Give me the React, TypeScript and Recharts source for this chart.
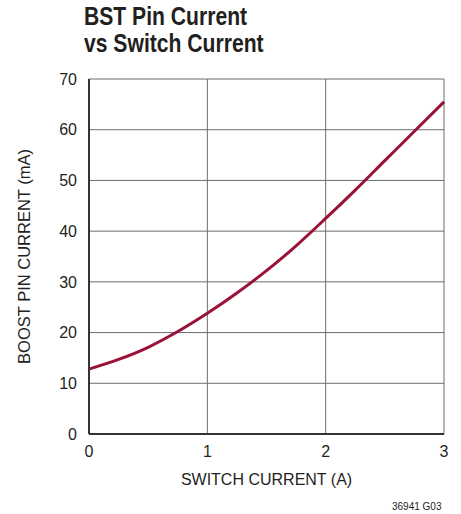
import React from "react";
import { LineChart, Line, XAxis, YAxis, CartesianGrid, Label } from "recharts";

const switchCurrent = [0, 0.25, 0.5, 0.75, 1, 1.25, 1.5, 1.75, 2, 2.25, 2.5, 2.75, 3];
const boostCurrent = [12.8, 14.7, 17.1, 20.2, 23.8, 27.8, 32.2, 37.1, 42.5, 48.1, 53.9, 59.7, 65.5];
const xTicks = [0, 1, 2, 3];
const yTicks = [0, 10, 20, 30, 40, 50, 60, 70];

const data = switchCurrent.map((x, i) => ({ x, y: boostCurrent[i] }));

const FONT = '"Liberation Sans", Arial, sans-serif';

export default function App() {
  return (
    <div style={{ position: "absolute", left: 0, top: 0, width: 461, height: 514, background: "#fff", fontFamily: FONT }}>
      <div
        style={{
          position: "absolute",
          left: 84,
          top: 3,
          fontSize: 25,
          fontWeight: "bold",
          lineHeight: "27px",
          color: "#231f20",
          whiteSpace: "nowrap",
          transform: "scaleX(0.845)",
          transformOrigin: "left top",
        }}
      >
        BST Pin Current
        <br />
        vs Switch Current
      </div>
      <LineChart width={461} height={514} data={data} margin={{ top: 79, right: 17, bottom: 0, left: 0 }}>
        <CartesianGrid stroke="#6d6d6d" strokeWidth={1} />
        <XAxis
          dataKey="x"
          type="number"
          domain={[0, 3]}
          ticks={xTicks}
          tickSize={0}
          tickMargin={12}
          height={80}
          axisLine={{ stroke: "#333", strokeWidth: 2 }}
          tick={{ fill: "#231f20", fontSize: 16, fontFamily: FONT }}
        >
          <Label value="SWITCH CURRENT (A)" position="insideTop" offset={40} style={{ fill: "#231f20", fontSize: 16, fontFamily: FONT }} />
        </XAxis>
        <XAxis xAxisId="top" orientation="top" type="number" domain={[0, 3]} dataKey="x" height={0} tick={false} tickLine={false} axisLine={{ stroke: "#333", strokeWidth: 2 }} />
        <YAxis
          type="number"
          domain={[0, 70]}
          ticks={yTicks}
          tickSize={0}
          tickMargin={12}
          width={89}
          axisLine={{ stroke: "#333", strokeWidth: 2 }}
          tick={{ fill: "#231f20", fontSize: 16, fontFamily: FONT }}
        >
          <Label value="BOOST PIN CURRENT (mA)" angle={-90} position="insideLeft" offset={24} style={{ fill: "#231f20", fontSize: 16.5, fontFamily: FONT, textAnchor: "middle" }} />
        </YAxis>
        <YAxis yAxisId="right" orientation="right" domain={[0, 70]} width={0} tick={false} tickLine={false} axisLine={{ stroke: "#333", strokeWidth: 2 }} />
        <Line type="monotone" dataKey="y" stroke="#9b1237" strokeWidth={3} dot={false} isAnimationActive={false} />
      </LineChart>
      <div style={{ position: "absolute", left: 392, top: 501, fontSize: 10, color: "#231f20" }}>36941 G03</div>
    </div>
  );
}
